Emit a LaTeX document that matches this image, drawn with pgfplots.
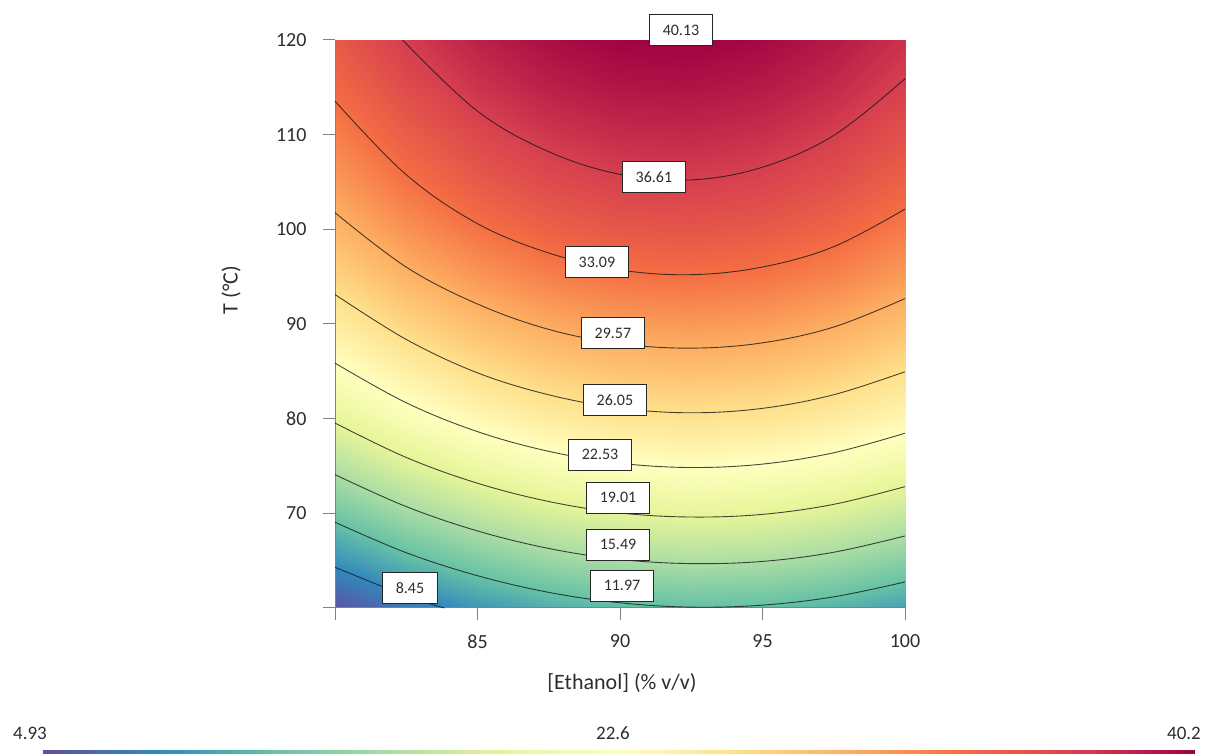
\documentclass[border=0pt]{standalone}
\usepackage{pgfplots}
\pgfplotsset{compat=1.18}
\usepackage{fontspec}
\setmainfont{Carlito}
\pgfplotsset{colormap={spectralr}{rgb255=(94,79,162) rgb255=(50,136,189) rgb255=(102,194,165) rgb255=(171,221,164) rgb255=(230,245,152) rgb255=(255,255,191) rgb255=(254,224,139) rgb255=(253,174,97) rgb255=(244,109,67) rgb255=(213,62,79) rgb255=(158,1,66)}}
\definecolor{txt}{RGB}{45,45,45}
\definecolor{axgray}{RGB}{130,130,130}
\tikzset{clab/.style={draw=black!85, fill=white, line width=0.8pt, font=\fontsize{16}{16}\selectfont, text=txt, inner xsep=13pt, inner ysep=0pt, minimum height=31pt, anchor=center},
  cline/.style={draw=black!90, draw opacity=0.8, line width=0.9pt, solid, smooth, tension=0.6, mark=none}}
\begin{document}
\begin{tikzpicture}
\path[use as bounding box] (0,0) rectangle (1206pt,754pt);
% ---- colour surface ----
\begin{axis}[at={(335pt,146pt)}, anchor=south west, scale only axis, width=570pt, height=568pt,
  xmin=80, xmax=100, ymin=60, ymax=120, view={0}{90}, hide axis,
  colormap name=spectralr, point meta min=4.93, point meta max=40.2]
\addplot3[surf, shader=interp, mesh/cols=9] coordinates {
(80,60,5.06) (82.5,60,7.45) (85,60,9.32) (87.5,60,10.69) (90,60,11.55) (92.5,60,11.90) (95,60,11.74) (97.5,60,11.08) (100,60,9.90)
(80,65,9.00) (82.5,65,11.36) (85,65,13.21) (87.5,65,14.56) (90,65,15.40) (92.5,65,15.73) (95,65,15.55) (97.5,65,14.86) (100,65,13.67)
(80,70,12.66) (82.5,70,15.00) (85,70,16.84) (87.5,70,18.16) (90,70,18.98) (92.5,70,19.29) (95,70,19.09) (97.5,70,18.38) (100,70,17.16)
(80,75,16.12) (82.5,75,18.44) (85,75,20.25) (87.5,75,21.56) (90,75,22.35) (92.5,75,22.64) (95,75,22.41) (97.5,75,21.68) (100,75,20.44)
(80,80,19.30) (82.5,80,21.60) (85,80,23.39) (87.5,80,24.68) (90,80,25.45) (92.5,80,25.72) (95,80,25.47) (97.5,80,24.72) (100,80,23.46)
(80,85,22.09) (82.5,85,24.37) (85,85,26.14) (87.5,85,27.40) (90,85,28.15) (92.5,85,28.39) (95,85,28.13) (97.5,85,27.35) (100,85,26.07)
(80,90,24.61) (82.5,90,26.86) (85,90,28.61) (87.5,90,29.85) (90,90,30.58) (92.5,90,30.80) (95,90,30.52) (97.5,90,29.72) (100,90,28.42)
(80,95,26.92) (82.5,95,29.16) (85,95,30.88) (87.5,95,32.10) (90,95,32.81) (92.5,95,33.01) (95,95,32.70) (97.5,95,31.89) (100,95,30.56)
(80,100,28.97) (82.5,100,31.18) (85,100,32.89) (87.5,100,34.08) (90,100,34.77) (92.5,100,34.95) (95,100,34.62) (97.5,100,33.78) (100,100,32.43)
(80,105,30.67) (82.5,105,32.87) (85,105,34.55) (87.5,105,35.72) (90,105,36.39) (92.5,105,36.55) (95,105,36.20) (97.5,105,35.34) (100,105,33.97)
(80,110,32.12) (82.5,110,34.29) (85,110,35.95) (87.5,110,37.11) (90,110,37.75) (92.5,110,37.89) (95,110,37.51) (97.5,110,36.63) (100,110,35.24)
(80,115,33.49) (82.5,115,35.64) (85,115,37.28) (87.5,115,38.41) (90,115,39.03) (92.5,115,39.15) (95,115,38.75) (97.5,115,37.85) (100,115,36.44)
(80,120,34.59) (82.5,120,36.72) (85,120,38.34) (87.5,120,39.45) (90,120,40.05) (92.5,120,40.14) (95,120,39.73) (97.5,120,38.80) (100,120,37.37)
};
\end{axis}
% ---- contours, axes, labels ----
\begin{axis}[at={(335pt,146pt)}, anchor=south west, scale only axis, width=570pt, height=568pt,
  xmin=80, xmax=100, ymin=60, ymax=120, enlargelimits=false, clip=false,
  axis x line*=bottom, axis y line*=left,
  axis line style={axgray, line width=1pt, -},
  tick style={axgray, line width=1pt}, major tick length=12pt, tick align=outside,
  xtick={80,85,90,95,100}, xticklabels={,85,90,95,100},
  ytick={60,70,80,90,100,110,120}, yticklabels={,70,80,90,100,110,120},
  ticklabel style={font=\fontsize{20}{20}\selectfont, text=txt},
  xticklabel style={yshift=-11pt},
  yticklabel style={xshift=-13pt},
  xlabel={[Ethanol] (\% v/v)}, ylabel={T (°C)},
  label style={font=\fontsize{22}{22}\selectfont, text=txt},
  xlabel style={at={(axis description cs:0.5035,-0.132)}, anchor=center},
  ylabel style={at={(axis description cs:-0.1825,0.56)}, anchor=center}]
\addplot[cline] coordinates {(82.37,120) (85,112.48) (87.5,108.20) (90,105.81) (92.5,105.22) (95,106.56) (97.5,109.92) (100,115.91)};
\addplot[cline] coordinates {(80,113.54) (82.5,105.77) (85,100.60) (87.5,97.50) (90,95.71) (92.5,95.21) (95,96.02) (97.5,98.17) (100,102.14)};
\addplot[cline] coordinates {(80,101.76) (82.5,96.01) (85,92.11) (87.5,89.43) (90,87.92) (92.5,87.45) (95,88.01) (97.5,89.68) (100,92.69)};
\addplot[cline] coordinates {(80,93.12) (82.5,88.37) (85,84.84) (87.5,82.52) (90,81.11) (92.5,80.62) (95,81.09) (97.5,82.53) (100,84.96)};
\addplot[cline] coordinates {(80,85.87) (82.5,81.68) (85,78.63) (87.5,76.55) (90,75.29) (92.5,74.84) (95,75.20) (97.5,76.40) (100,78.46)};
\addplot[cline] coordinates {(80,79.54) (82.5,75.90) (85,73.18) (87.5,71.25) (90,70.04) (92.5,69.61) (95,69.89) (97.5,70.95) (100,72.82)};
\addplot[cline] coordinates {(80,74.09) (82.5,70.71) (85,68.14) (87.5,66.29) (90,65.13) (92.5,64.69) (95,64.92) (97.5,65.89) (100,67.61)};
\addplot[cline] coordinates {(80,69.06) (82.5,65.84) (85,63.41) (87.5,61.65) (90,60.55) (92.5,60.09) (95,60.30) (97.5,61.18) (100,62.75)};
\addplot[cline] coordinates {(80,64.30) (82.5,61.28) (83.84,60)};
\node[clab] at (axis cs:92.14,121.06) {40.13};
\node[clab] at (axis cs:91.19,105.53) {36.61};
\node[clab] at (axis cs:89.19,96.56) {33.09};
\node[clab] at (axis cs:89.75,89.06) {29.57};
\node[clab] at (axis cs:89.82,81.98) {26.05};
\node[clab] at (axis cs:89.30,76.18) {22.53};
\node[clab] at (axis cs:89.93,71.64) {19.01};
\node[clab] at (axis cs:89.93,66.67) {15.49};
\node[clab] at (axis cs:90.07,62.34) {11.97};
\node[clab] at (axis cs:82.63,62.13) {8.45};
\end{axis}
% ---- colour bar ----
\begin{axis}[at={(43pt,0pt)}, anchor=south west, scale only axis, width=1152pt, height=4pt,
  xmin=4.93, xmax=40.2, ymin=0, ymax=1, view={0}{90}, hide axis,
  colormap name=spectralr, point meta min=4.93, point meta max=40.2]
\addplot3[surf, shader=interp, mesh/cols=11] coordinates {
(4.93,0,4.93) (8.457,0,8.457) (11.984,0,11.984) (15.511,0,15.511) (19.038,0,19.038) (22.565,0,22.565) (26.092,0,26.092) (29.619,0,29.619) (33.146,0,33.146) (36.673,0,36.673) (40.2,0,40.2)
(4.93,1,4.93) (8.457,1,8.457) (11.984,1,11.984) (15.511,1,15.511) (19.038,1,19.038) (22.565,1,22.565) (26.092,1,26.092) (29.619,1,29.619) (33.146,1,33.146) (36.673,1,36.673) (40.2,1,40.2)
};
\end{axis}
\node[font=\fontsize{19}{19}\selectfont, text=txt] at (30pt,21pt) {4.93};
\node[font=\fontsize{19}{19}\selectfont, text=txt] at (613pt,21pt) {22.6};
\node[font=\fontsize{19}{19}\selectfont, text=txt] at (1184pt,21pt) {40.2};
\end{tikzpicture}
\end{document}
